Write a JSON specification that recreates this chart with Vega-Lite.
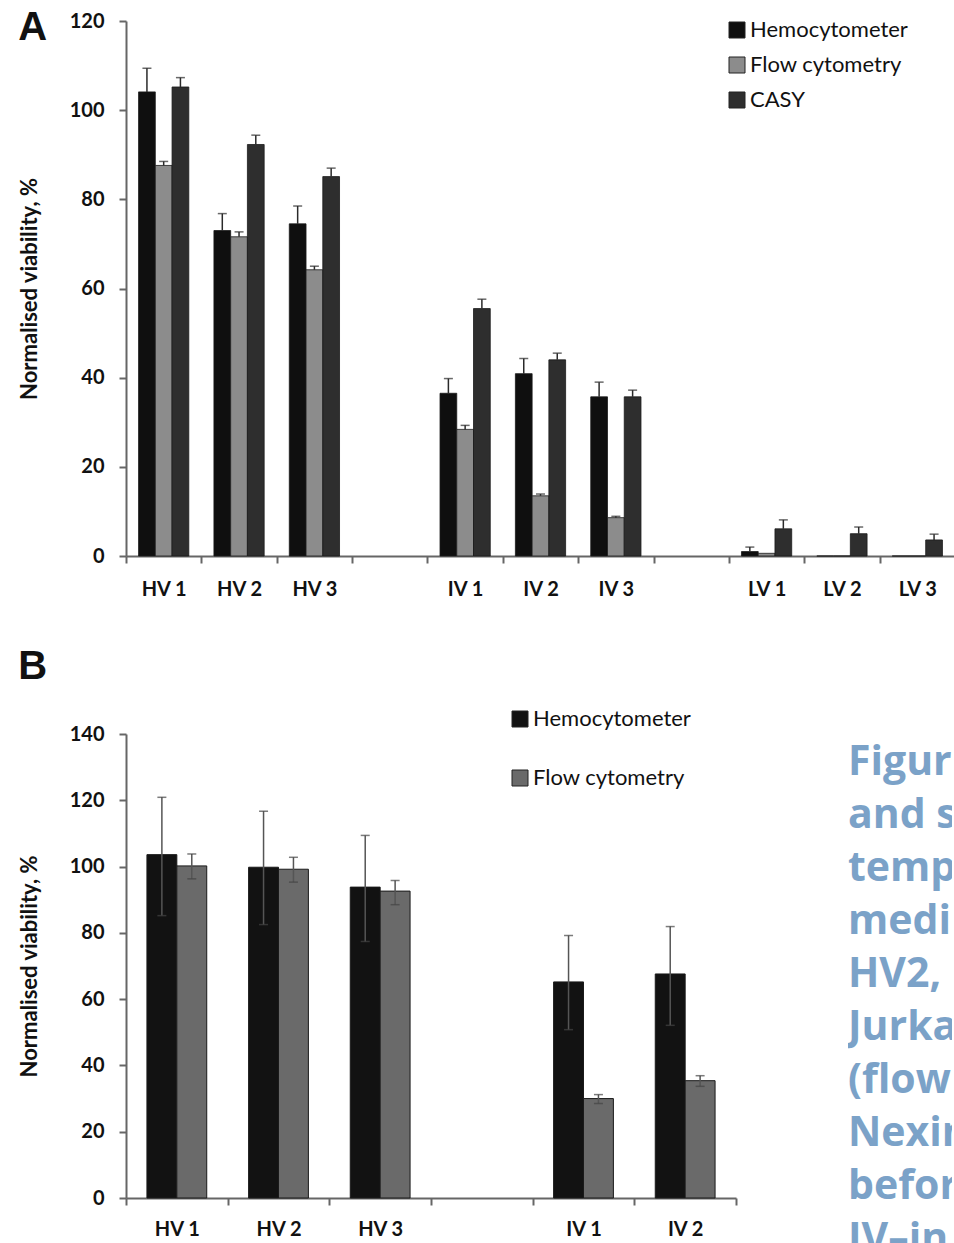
{
  "$schema": "https://vega.github.io/schema/vega-lite/v6.json",
  "background": "white",
  "padding": {"left": 18, "top": 8, "right": 0, "bottom": 0},
  "config": {
    "view": {"stroke": null},
    "font": "Lato",
    "axis": {
      "labelFont": "Lato", "labelFontWeight": "bold", "labelFontSize": 20, "labelColor": "#111",
      "titleFont": "Lato", "titleFontWeight": "bold", "titleFontSize": 22, "titleColor": "#111",
      "domainColor": "#666", "domainWidth": 2, "tickColor": "#666", "tickWidth": 2, "tickSize": 7, "grid": false
    },
    "legend": {
      "symbolType": "square", "symbolSize": 256, "symbolStrokeColor": "#222", "symbolStrokeWidth": 1,
      "labelFont": "Lato", "labelFontSize": 22, "labelColor": "#111", "padding": 0, "labelOffset": 2
    },
    "title": {"font": "Liberation Sans", "fontWeight": "bold", "fontSize": 40, "color": "#111", "anchor": "start", "frame": "bounds"}
  },
  "resolve": {"scale": {"color": "independent", "x": "independent", "y": "independent", "xOffset": "independent"}, "legend": {"color": "independent"}},
  "spacing": 48,
  "vconcat": [
    {
      "width": 829,
      "height": 535,
      "title": {"text": "A", "offset": -37},
      "data": {"values": [
        {"group": "HV 1", "method": "Hemocytometer", "value": 104.1, "upper": 109.4},
        {"group": "HV 1", "method": "Flow cytometry", "value": 87.6, "upper": 88.5},
        {"group": "HV 1", "method": "CASY", "value": 105.2, "upper": 107.3},
        {"group": "HV 2", "method": "Hemocytometer", "value": 73.0, "upper": 76.8},
        {"group": "HV 2", "method": "Flow cytometry", "value": 71.6, "upper": 72.7},
        {"group": "HV 2", "method": "CASY", "value": 92.3, "upper": 94.4},
        {"group": "HV 3", "method": "Hemocytometer", "value": 74.5, "upper": 78.5},
        {"group": "HV 3", "method": "Flow cytometry", "value": 64.2, "upper": 65.0},
        {"group": "HV 3", "method": "CASY", "value": 85.1, "upper": 87.0},
        {"group": "IV 1", "method": "Hemocytometer", "value": 36.5, "upper": 39.8},
        {"group": "IV 1", "method": "Flow cytometry", "value": 28.4, "upper": 29.3},
        {"group": "IV 1", "method": "CASY", "value": 55.5, "upper": 57.6},
        {"group": "IV 2", "method": "Hemocytometer", "value": 40.9, "upper": 44.3},
        {"group": "IV 2", "method": "Flow cytometry", "value": 13.5, "upper": 13.9},
        {"group": "IV 2", "method": "CASY", "value": 44.0, "upper": 45.5},
        {"group": "IV 3", "method": "Hemocytometer", "value": 35.7, "upper": 39.0},
        {"group": "IV 3", "method": "Flow cytometry", "value": 8.6, "upper": 8.9},
        {"group": "IV 3", "method": "CASY", "value": 35.7, "upper": 37.2},
        {"group": "LV 1", "method": "Hemocytometer", "value": 1.0, "upper": 2.0},
        {"group": "LV 1", "method": "Flow cytometry", "value": 0.6, "upper": null},
        {"group": "LV 1", "method": "CASY", "value": 6.1, "upper": 8.1},
        {"group": "LV 2", "method": "Hemocytometer", "value": 0, "upper": null},
        {"group": "LV 2", "method": "Flow cytometry", "value": 0, "upper": null},
        {"group": "LV 2", "method": "CASY", "value": 5.0, "upper": 6.5},
        {"group": "LV 3", "method": "Hemocytometer", "value": 0, "upper": null},
        {"group": "LV 3", "method": "Flow cytometry", "value": 0, "upper": null},
        {"group": "LV 3", "method": "CASY", "value": 3.6, "upper": 4.9}
      ]},
      "encoding": {
        "x": {
          "field": "group", "type": "nominal", "title": null,
          "scale": {"domain": ["HV 1", "HV 2", "HV 3", "gap1", "IV 1", "IV 2", "IV 3", "gap2", "LV 1", "LV 2", "LV 3"], "paddingInner": 0, "paddingOuter": 0},
          "axis": {"labelAngle": 0, "tickBand": "extent", "labelPadding": 16, "labelExpr": "indexof(datum.label, 'gap') >= 0 ? '' : datum.label"}
        },
        "xOffset": {"field": "method", "type": "nominal", "scale": {"domain": ["Hemocytometer", "Flow cytometry", "CASY"], "paddingInner": 0, "paddingOuter": 0.75}}
      },
      "layer": [
        {
          "mark": {"type": "bar", "stroke": "#1a1a1a", "strokeWidth": 0.8},
          "encoding": {
            "y": {"field": "value", "type": "quantitative", "title": "Normalised viability, %",
              "scale": {"domain": [0, 120], "nice": false},
              "axis": {"values": [0, 20, 40, 60, 80, 100, 120], "labelPadding": 15, "titlePadding": 28}},
            "color": {"field": "method", "type": "nominal",
              "scale": {"domain": ["Hemocytometer", "Flow cytometry", "CASY"], "range": ["#0f0f0f", "#8c8c8c", "#2e2e2e"]},
              "legend": {"title": null, "orient": "none", "legendX": 600, "legendY": -2, "rowPadding": 13}}
          }
        },
        {
          "transform": [{"filter": "datum.upper != null"}],
          "mark": {"type": "rule", "color": "#2a2a2a", "strokeWidth": 1.5},
          "encoding": {"y": {"field": "value", "type": "quantitative"}, "y2": {"field": "upper"}}
        },
        {
          "transform": [{"filter": "datum.upper != null"}],
          "mark": {"type": "tick", "color": "#2a2a2a", "thickness": 1.5, "size": 9},
          "encoding": {"y": {"field": "upper", "type": "quantitative"}}
        }
      ]
    },
    {
      "spacing": 111,
      "resolve": {"scale": {"y": "independent", "x": "independent"}},
      "hconcat": [
        {
          "width": 610,
          "height": 464,
          "title": {"text": "B", "offset": 37},
          "data": {"values": [
            {"group": "HV 1", "method": "Hemocytometer", "value": 103.6, "lower": 85.2, "upper": 120.9},
            {"group": "HV 1", "method": "Flow cytometry", "value": 100.2, "lower": 96.3, "upper": 103.8},
            {"group": "HV 2", "method": "Hemocytometer", "value": 99.8, "lower": 82.5, "upper": 116.7},
            {"group": "HV 2", "method": "Flow cytometry", "value": 99.2, "lower": 95.3, "upper": 102.8},
            {"group": "HV 3", "method": "Hemocytometer", "value": 93.8, "lower": 77.4, "upper": 109.4},
            {"group": "HV 3", "method": "Flow cytometry", "value": 92.6, "lower": 88.5, "upper": 95.8},
            {"group": "IV 1", "method": "Hemocytometer", "value": 65.2, "lower": 50.8, "upper": 79.2},
            {"group": "IV 1", "method": "Flow cytometry", "value": 30.0, "lower": 28.5, "upper": 31.2},
            {"group": "IV 2", "method": "Hemocytometer", "value": 67.6, "lower": 52.1, "upper": 81.9},
            {"group": "IV 2", "method": "Flow cytometry", "value": 35.4, "lower": 33.7, "upper": 36.9}
          ]},
          "encoding": {
            "x": {
              "field": "group", "type": "nominal", "title": null,
              "scale": {"domain": ["HV 1", "HV 2", "HV 3", "gap", "IV 1", "IV 2"], "paddingInner": 0, "paddingOuter": 0},
              "axis": {"labelAngle": 0, "tickBand": "extent", "labelPadding": 14, "labelExpr": "indexof(datum.label, 'gap') >= 0 ? '' : datum.label"}
            },
            "xOffset": {"field": "method", "type": "nominal", "scale": {"domain": ["Hemocytometer", "Flow cytometry"], "paddingInner": 0, "paddingOuter": 0.7}}
          },
          "layer": [
            {
              "mark": {"type": "bar", "stroke": "#1a1a1a", "strokeWidth": 1},
              "encoding": {
                "y": {"field": "value", "type": "quantitative", "title": "Normalised viability, %",
                  "scale": {"domain": [0, 140], "nice": false},
                  "axis": {"values": [0, 20, 40, 60, 80, 100, 120, 140], "labelPadding": 15, "titlePadding": 28}},
                "color": {"field": "method", "type": "nominal",
                  "scale": {"domain": ["Hemocytometer", "Flow cytometry"], "range": ["#121212", "#6a6a6a"]},
                  "legend": {"title": null, "orient": "none", "legendX": 383, "legendY": -26, "rowPadding": 37}}
              }
            },
            {
              "mark": {"type": "rule", "color": "#555", "strokeWidth": 1.5},
              "encoding": {"y": {"field": "lower", "type": "quantitative"}, "y2": {"field": "upper"}}
            },
            {
              "mark": {"type": "tick", "color": "#444", "thickness": 1.5, "size": 9},
              "encoding": {"y": {"field": "upper", "type": "quantitative"}}
            },
            {
              "mark": {"type": "tick", "color": "#444", "thickness": 1.5, "size": 9},
              "encoding": {"y": {"field": "lower", "type": "quantitative"}}
            }
          ]
        },
        {
          "width": 104,
          "height": 509,
          "data": {"values": [
            {"line": 1, "text": "Figure"},
            {"line": 2, "text": "and sh"},
            {"line": 3, "text": "tempe"},
            {"line": 4, "text": "mediu"},
            {"line": 5, "text": "HV2,"},
            {"line": 6, "text": "Jurkat"},
            {"line": 7, "text": "(flow"},
            {"line": 8, "text": "Nexin"},
            {"line": 9, "text": "before"},
            {"line": 10, "text": "IV–in"}
          ]},
          "mark": {"type": "text", "align": "left", "baseline": "middle", "font": "Open Sans", "fontWeight": "bold", "fontSize": 41, "color": "#7ba2c8", "clip": true},
          "encoding": {
            "x": {"value": 0},
            "y": {"field": "line", "type": "quantitative", "scale": {"domain": [0.453, 10.057], "reverse": true, "nice": false, "zero": false}, "axis": null},
            "text": {"field": "text"}
          }
        }
      ]
    }
  ]
}
